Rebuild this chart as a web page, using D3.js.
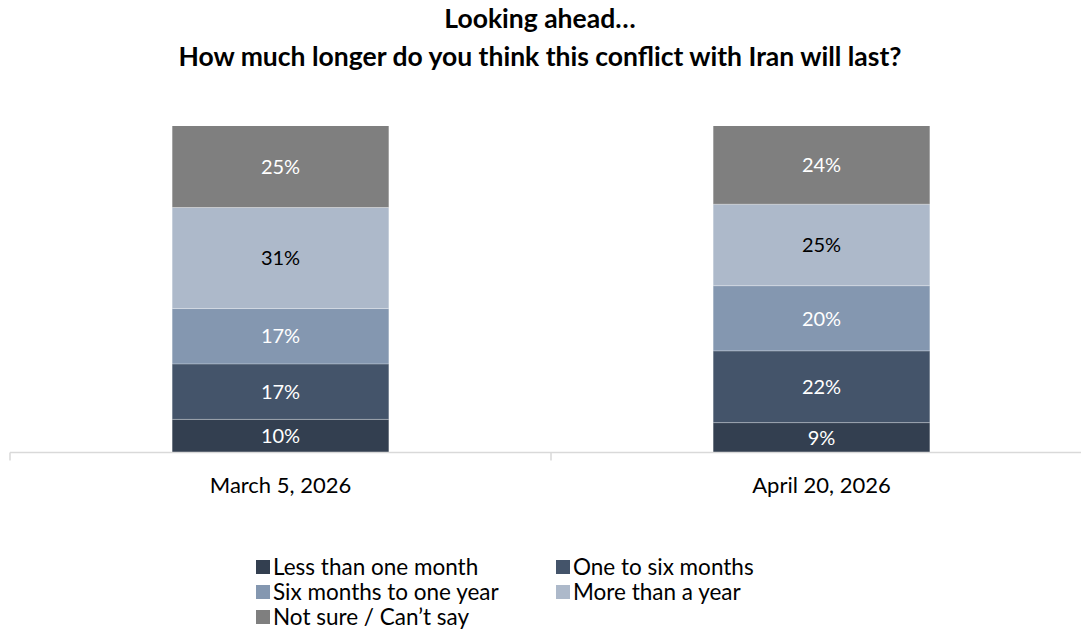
<!DOCTYPE html>
<html>
<head>
<meta charset="utf-8">
<script src="https://cdn.jsdelivr.net/npm/d3@7"></script>
<style>
  html, body { margin: 0; padding: 0; background: #fff; }
  svg text { font-family: Lato, "Open Sans", sans-serif; }
</style>
</head>
<body>
<svg id="chart" width="1081" height="643"></svg>
<script>
const titleLines = ["Looking ahead\u2026", "How much longer do you think this conflict with Iran will last?"];
const categories = ["March 5, 2026", "April 20, 2026"];
const seriesNames = ["Less than one month", "One to six months", "Six months to one year", "More than a year", "Not sure / Can\u2019t say"];
const lessThanOneMonth = [10, 9];
const oneToSixMonths = [17, 22];
const sixMonthsToOneYear = [17, 20];
const moreThanAYear = [31, 25];
const notSure = [25, 24];
const seriesColors = ["#333F50", "#44546A", "#8497B0", "#ADB9CA", "#7F7F7F"];
const labelColors = ["#ffffff", "#ffffff", "#ffffff", "#000000", "#ffffff"];

const seriesValues = [lessThanOneMonth, oneToSixMonths, sixMonthsToOneYear, moreThanAYear, notSure];
const rows = categories.map((c, i) => {
  const r = { category: c };
  seriesNames.forEach((s, j) => r[s] = seriesValues[j][i]);
  return r;
});

const svg = d3.select("#chart");

// Title
svg.append("g").selectAll("text").data(titleLines).join("text")
  .attr("x", 540).attr("y", (d, i) => 28 + i * 38)
  .attr("text-anchor", "middle")
  .attr("font-weight", "bold")
  .attr("font-size", 26.5)
  .attr("fill", "#000")
  .text(d => d);

const x = d3.scaleBand().domain(categories).range([10, 1092]).paddingInner(0.6).paddingOuter(0.3);
const y = d3.scaleLinear().domain([0, 100]).range([452, 126]);

const stack = d3.stack().keys(seriesNames);
const stacked = stack(rows);

const layers = svg.append("g").selectAll("g").data(stacked).join("g")
  .attr("fill", (d, i) => seriesColors[i]);

layers.selectAll("rect").data(d => d).join("rect")
  .attr("x", d => x(d.data.category))
  .attr("width", x.bandwidth())
  .attr("y", d => y(d[1]))
  .attr("height", d => y(d[0]) - y(d[1]));

// thin separators between segments
svg.append("g").selectAll("line")
  .data(stacked.slice(1).flatMap(l => l))
  .join("line")
  .attr("x1", d => x(d.data.category))
  .attr("x2", d => x(d.data.category) + x.bandwidth())
  .attr("y1", d => y(d[0]))
  .attr("y2", d => y(d[0]))
  .attr("stroke", "rgba(255,255,255,0.35)")
  .attr("stroke-width", 1);

// data labels
stacked.forEach((layer, i) => {
  svg.append("g").selectAll("text").data(layer).join("text")
    .attr("x", d => x(d.data.category) + x.bandwidth() / 2)
    .attr("y", d => (y(d[0]) + y(d[1])) / 2)
    .attr("dy", "0.36em")
    .attr("text-anchor", "middle")
    .attr("font-size", 20)
    .attr("fill", labelColors[i])
    .text(d => (d[1] - d[0]) + "%");
});

// x axis
const axisG = svg.append("g").attr("transform", "translate(0,452.5)");
axisG.append("line").attr("x1", 10).attr("x2", 1092).attr("y1", 0).attr("y2", 0)
  .attr("stroke", "#d9d9d9").attr("stroke-width", 1.5);
const boundaries = [x.range()[0]].concat(categories.map(c => x(c) - x.step() * x.paddingInner() / 2 + x.step()));
axisG.selectAll("line.tick").data(boundaries).join("line").attr("class", "tick")
  .attr("x1", d => d).attr("x2", d => d).attr("y1", 0).attr("y2", 8)
  .attr("stroke", "#d9d9d9").attr("stroke-width", 1.5);
axisG.selectAll("text").data(categories).join("text")
  .attr("x", d => x(d) + x.bandwidth() / 2)
  .attr("y", 40)
  .attr("text-anchor", "middle")
  .attr("font-size", 22)
  .attr("fill", "#000")
  .text(d => d);

// legend
const legend = svg.append("g");
const legendItems = legend.selectAll("g").data(seriesNames).join("g")
  .attr("transform", (d, i) => `translate(${256 + (i % 2) * 300},${567 + Math.floor(i / 2) * 25})`);
legendItems.append("rect").attr("x", 0).attr("y", -7).attr("width", 14).attr("height", 14)
  .attr("fill", (d, i) => seriesColors[i]);
legendItems.append("text").attr("x", 17).attr("y", 0).attr("dy", "0.36em")
  .attr("font-size", 22.5).attr("fill", "#000").text(d => d);
</script>
</body>
</html>
